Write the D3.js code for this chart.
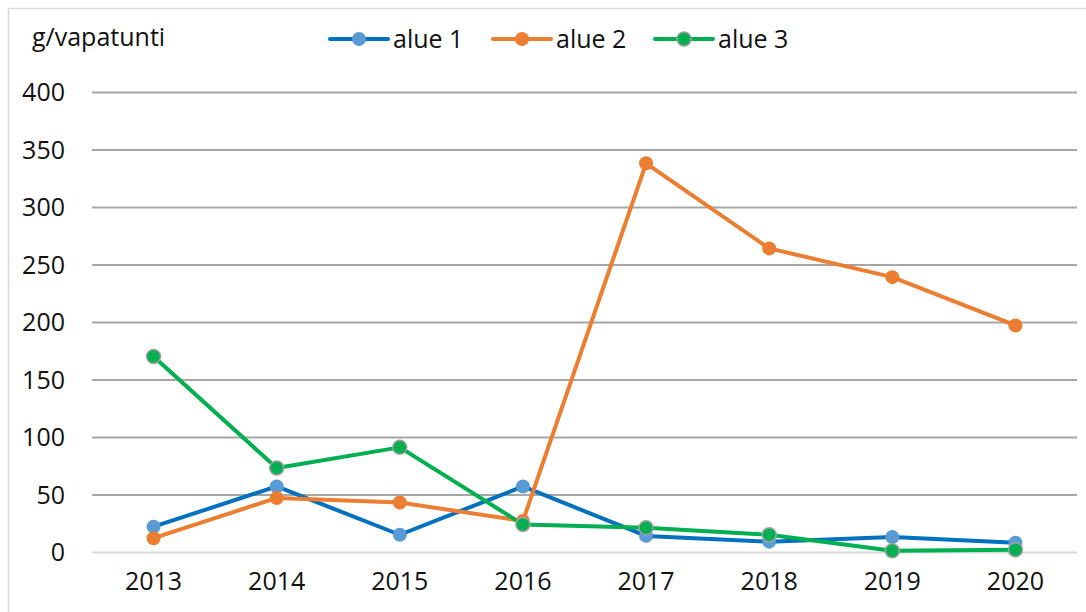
<!DOCTYPE html>
<html lang="fi">
<head>
    <meta charset="UTF-8">
    <title>g/vapatunti</title>
    <script src="https://d3js.org/d3.v7.min.js"></script>
    <style>
    body{
        margin: 0;
        background: #fff;
    }
    text{
        font-family: "Open Sans", sans-serif;
        fill: #111;
    }
    .grid line{
        stroke: #a6a6a6;
        stroke-width: 2;
    }
    .grid path{ display: none; }
    .axis path, .axis line{ display: none; }
    .axis text{ font-size: 25px; }
    </style>
</head>
<body>
<script>
    var width = 1086;
    var height = 612;

    // data
    var years = ["2013", "2014", "2015", "2016", "2017", "2018", "2019", "2020"];
    var alue1 = [22, 57, 15, 57, 14, 9, 13, 8];
    var alue2 = [12, 47, 43, 27, 338, 264, 239, 197];
    var alue3 = [170, 73, 91, 24, 21, 15, 1, 2];
    var seriesNames = ["alue 1", "alue 2", "alue 3"];
    var yTicks = [0, 50, 100, 150, 200, 250, 300, 350, 400];

    var series = [
        {name: seriesNames[0], values: alue1, line: "#0070c0", dot: "#5b9bd5", ring: "none"},
        {name: seriesNames[1], values: alue2, line: "#ed7d31", dot: "#ed7d31", ring: "none"},
        {name: seriesNames[2], values: alue3, line: "#00b050", dot: "#00b050", ring: "#a0a0a0"}
    ];

    var svg = d3.select("body").append("svg")
        .attr("width", width)
        .attr("height", height);

    // frame
    svg.append("rect")
        .attr("x", 8.5).attr("y", 8.5)
        .attr("width", 1090).attr("height", 620)
        .attr("fill", "none")
        .attr("stroke", "#d9d9d9")
        .attr("stroke-width", 1.5);

    var x = d3.scaleBand().domain(years).range([92, 1077]);
    var y = d3.scaleLinear().domain([0, 400]).range([552, 92]);

    // gridlines
    svg.append("g")
        .attr("class", "grid")
        .attr("transform", "translate(92,0)")
        .call(d3.axisLeft(y).tickValues(yTicks).tickSize(-(1077 - 92)).tickFormat(""))
        .selectAll("line")
        .style("stroke", function(d) { return d === 0 ? "#d9d9d9" : null; });

    // y axis labels
    svg.append("g")
        .attr("class", "axis")
        .attr("transform", "translate(67,0)")
        .call(d3.axisLeft(y).tickValues(yTicks).tickSize(0).tickPadding(2))
        .selectAll("text")
        .attr("dy", "0.35em");

    // x axis labels
    svg.append("g")
        .attr("class", "axis")
        .attr("transform", "translate(0,566)")
        .call(d3.axisBottom(x).tickSize(0).tickPadding(0))
        .selectAll("text")
        .attr("dy", "0.95em");

    // unit label
    svg.append("text")
        .attr("x", 32).attr("y", 46)
        .attr("font-size", "25px")
        .text("g/vapatunti");

    var line = d3.line()
        .x(function(d, i) { return x(years[i]) + x.bandwidth() / 2; })
        .y(function(d) { return y(d); });

    series.forEach(function(s) {
        svg.append("path")
            .datum(s.values)
            .attr("fill", "none")
            .attr("stroke", s.line)
            .attr("stroke-width", 4)
            .attr("stroke-linejoin", "round")
            .attr("d", line);
    });

    series.forEach(function(s) {
        svg.append("g").selectAll("circle")
            .data(s.values)
            .enter().append("circle")
            .attr("cx", function(d, i) { return x(years[i]) + x.bandwidth() / 2; })
            .attr("cy", function(d) { return y(d); })
            .attr("r", 7)
            .attr("fill", s.dot)
            .attr("stroke", s.ring)
            .attr("stroke-width", 1.5);
    });

    // legend
    var legendX = [330, 493, 655];
    var legend = svg.append("g").selectAll("g")
        .data(series)
        .enter().append("g")
        .attr("transform", function(d, i) { return "translate(" + legendX[i] + ",39)"; });

    legend.append("line")
        .attr("x1", 0).attr("x2", 58)
        .attr("stroke", function(d) { return d.line; })
        .attr("stroke-width", 4)
        .attr("stroke-linecap", "round");

    legend.append("circle")
        .attr("cx", 29).attr("r", 7)
        .attr("fill", function(d) { return d.dot; })
        .attr("stroke", function(d) { return d.ring; })
        .attr("stroke-width", 1.5);

    legend.append("text")
        .attr("x", 63).attr("dy", "0.35em")
        .attr("font-size", "25px")
        .text(function(d) { return d.name; });
</script>
</body>
</html>
